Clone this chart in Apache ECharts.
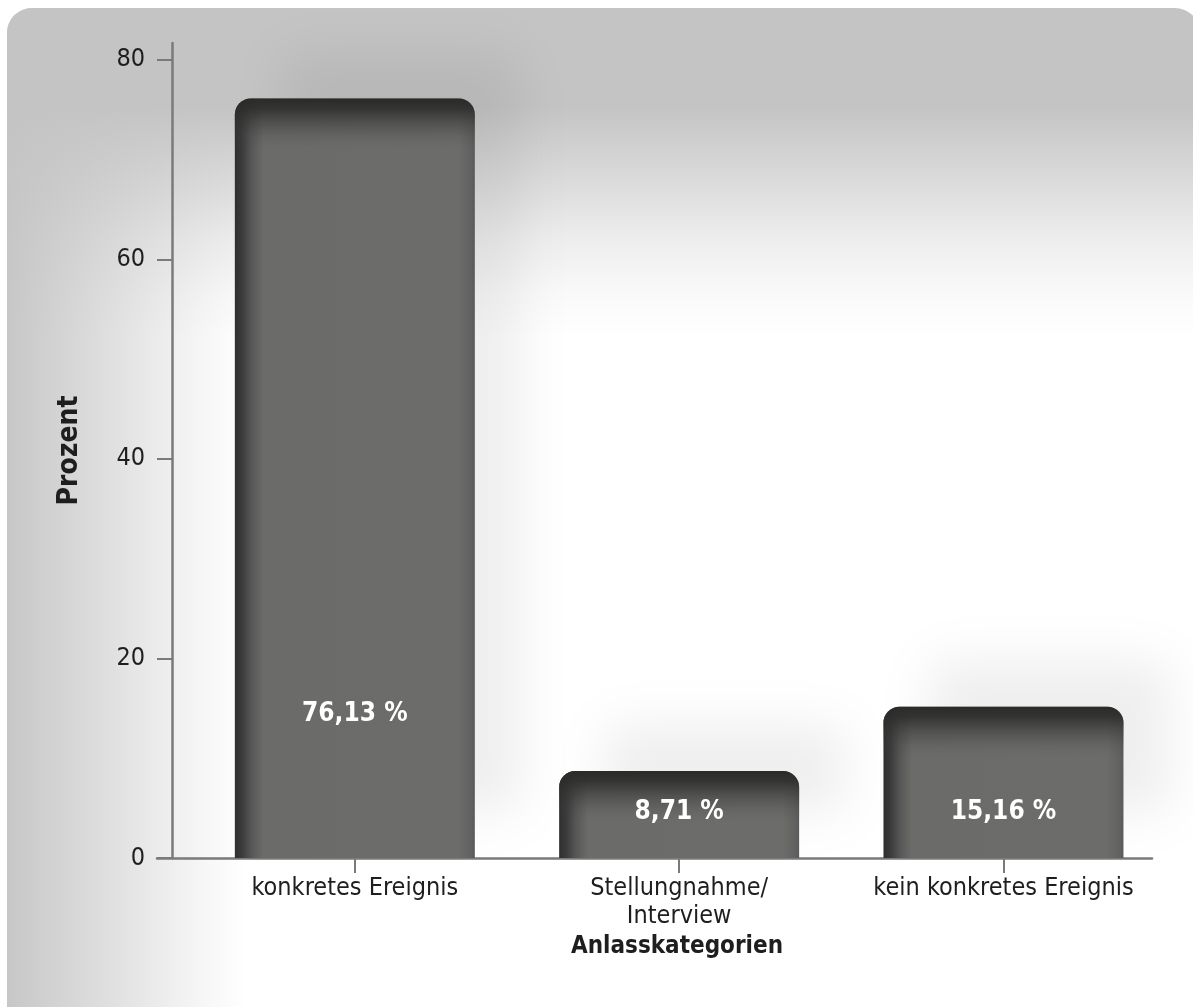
<!DOCTYPE html>
<html>
<head>
<meta charset="utf-8">
<script src="https://cdn.jsdelivr.net/npm/echarts@6/dist/echarts.min.js"></script>
<style>
html,body{margin:0;padding:0;background:#fff;}
#main{width:1193px;height:1007px;}
</style>
</head>
<body>
<div id="main"></div>
<script>
const categories = ['konkretes Ereignis', 'Stellungnahme/\nInterview', 'kein konkretes Ereignis'];
const values = [76.13, 8.71, 15.16];
const valueLabels = ['76,13 %', '8,71 %', '15,16 %'];
const yTicks = [0, 20, 40, 60, 80];
const xTicks = [1, 2, 3];
const yTitle = 'Prozent';
const xTitle = 'Anlasskategorien';

const FONT = "'Liberation Sans Narrow', 'DejaVu Sans Condensed', 'Noto Sans', sans-serif";
const AXIS_COLOR = '#7a7a7a';
const GRAY = '196,196,196';
const labelLift = [144, 46, 46];

const chart = echarts.init(document.getElementById('main'), null, {renderer: 'canvas'});

const hGrad = new echarts.graphic.LinearGradient(0, 0, 1, 0, [
  {offset: 0, color: '#2f2f2f'},
  {offset: 0.03, color: '#3b3b3b'},
  {offset: 0.07, color: '#575757'},
  {offset: 0.12, color: '#6b6b69'},
  {offset: 0.93, color: '#6c6c6a'},
  {offset: 0.98, color: '#626262'},
  {offset: 1, color: '#5a5a5a'}
]);
const vGrad = new echarts.graphic.LinearGradient(0, 0, 0, 1, [
  {offset: 0, color: 'rgba(42,42,40,1)'},
  {offset: 0.2, color: 'rgba(44,44,42,0.88)'},
  {offset: 0.5, color: 'rgba(50,50,48,0.45)'},
  {offset: 0.8, color: 'rgba(60,60,58,0.12)'},
  {offset: 1, color: 'rgba(60,60,58,0)'}
]);

const option = {
  animation: false,
  backgroundColor: '#ffffff',
  graphic: [
    {type: 'rect', z: -100, silent: true, shape: {x: 7, y: 8, width: 1193, height: 1050, r: [25, 25, 0, 0]}, style: {fill: '#ffffff'}},
    {type: 'rect', z: -99, silent: true, shape: {x: 7, y: 8, width: 1193, height: 330, r: [25, 25, 0, 0]},
      style: {fill: new echarts.graphic.LinearGradient(0, 0, 0, 1, [
        {offset: 0, color: 'rgba(' + GRAY + ',1)'},
        {offset: 0.3, color: 'rgba(' + GRAY + ',1)'},
        {offset: 0.52, color: 'rgba(' + GRAY + ',0.62)'},
        {offset: 0.7, color: 'rgba(' + GRAY + ',0.3)'},
        {offset: 0.87, color: 'rgba(' + GRAY + ',0.09)'},
        {offset: 1, color: 'rgba(' + GRAY + ',0)'}
      ])}},
    {type: 'rect', z: -99, silent: true, shape: {x: 7, y: 8, width: 240, height: 1050, r: [25, 0, 0, 0]},
      style: {fill: new echarts.graphic.LinearGradient(0, 0, 1, 0, [
        {offset: 0, color: 'rgba(' + GRAY + ',0.95)'},
        {offset: 0.3, color: 'rgba(' + GRAY + ',0.66)'},
        {offset: 0.6, color: 'rgba(' + GRAY + ',0.36)'},
        {offset: 0.82, color: 'rgba(' + GRAY + ',0.14)'},
        {offset: 1, color: 'rgba(' + GRAY + ',0)'}
      ])}}
  ],
  grid: {left: 157, right: 41, top: 43, bottom: 149, containLabel: false},
  xAxis: {
    type: 'value',
    min: 0.39,
    max: 3.458,
    splitLine: {show: false},
    axisLine: {show: true, onZero: false, lineStyle: {color: AXIS_COLOR, width: 2.5}},
    axisTick: {show: true, length: 15, customValues: xTicks, lineStyle: {color: AXIS_COLOR, width: 2}},
    axisLabel: {
      customValues: xTicks,
      formatter: function (v) { return categories[Math.round(v) - 1] || ''; },
      color: '#1e1e1e', fontFamily: FONT, fontSize: 25, lineHeight: 28, margin: 16
    },
    name: xTitle,
    nameLocation: 'middle',
    nameGap: 72,
    nameTextStyle: {color: '#1e1e1e', fontFamily: FONT, fontSize: 24, fontWeight: 'bold', padding: [0, 0, 0, 45]}
  },
  yAxis: {
    type: 'value',
    min: 0,
    max: 81.7,
    offset: -15,
    splitLine: {show: false},
    axisLine: {show: true, onZero: false, lineStyle: {color: AXIS_COLOR, width: 2.5}},
    axisTick: {show: true, length: 15, customValues: yTicks, lineStyle: {color: AXIS_COLOR, width: 2}},
    axisLabel: {customValues: yTicks, color: '#1e1e1e', fontFamily: FONT, fontSize: 25, margin: 27},
    name: yTitle,
    nameLocation: 'middle',
    nameRotate: 90,
    nameGap: 88,
    nameTextStyle: {color: '#1e1e1e', fontFamily: FONT, fontSize: 28, fontWeight: 'bold'}
  },
  series: [{
    type: 'custom',
    clip: false,
    data: values.map(function (v, i) { return [xTicks[i], v]; }),
    renderItem: function (params, api) {
      const idx = params.dataIndex;
      const xv = api.value(0), yv = api.value(1);
      const p0 = api.coord([xv, 0]);
      const p1 = api.coord([xv, yv]);
      const bw = api.size([1, 0])[0] * 0.74;
      const x = p0[0] - bw / 2, y = p1[1], h = p0[1] - p1[1];
      return {
        type: 'group',
        children: [
          {type: 'rect', shape: {x: x, y: y, width: bw, height: h, r: [16, 16, 0, 0]},
            style: {fill: hGrad, shadowBlur: 50, shadowColor: 'rgba(0,0,0,0.065)', shadowOffsetX: 46, shadowOffsetY: -46}},
          {type: 'rect', shape: {x: x, y: y, width: bw, height: Math.min(50, h), r: [16, 16, 0, 0]},
            style: {fill: vGrad}},
          {type: 'text', style: {text: valueLabels[idx], x: p0[0], y: p0[1] - labelLift[idx], align: 'center', verticalAlign: 'middle',
            fill: '#ffffff', font: 'bold 26px ' + FONT}}
        ]
      };
    }
  }]
};
chart.setOption(option);
</script>
</body>
</html>
